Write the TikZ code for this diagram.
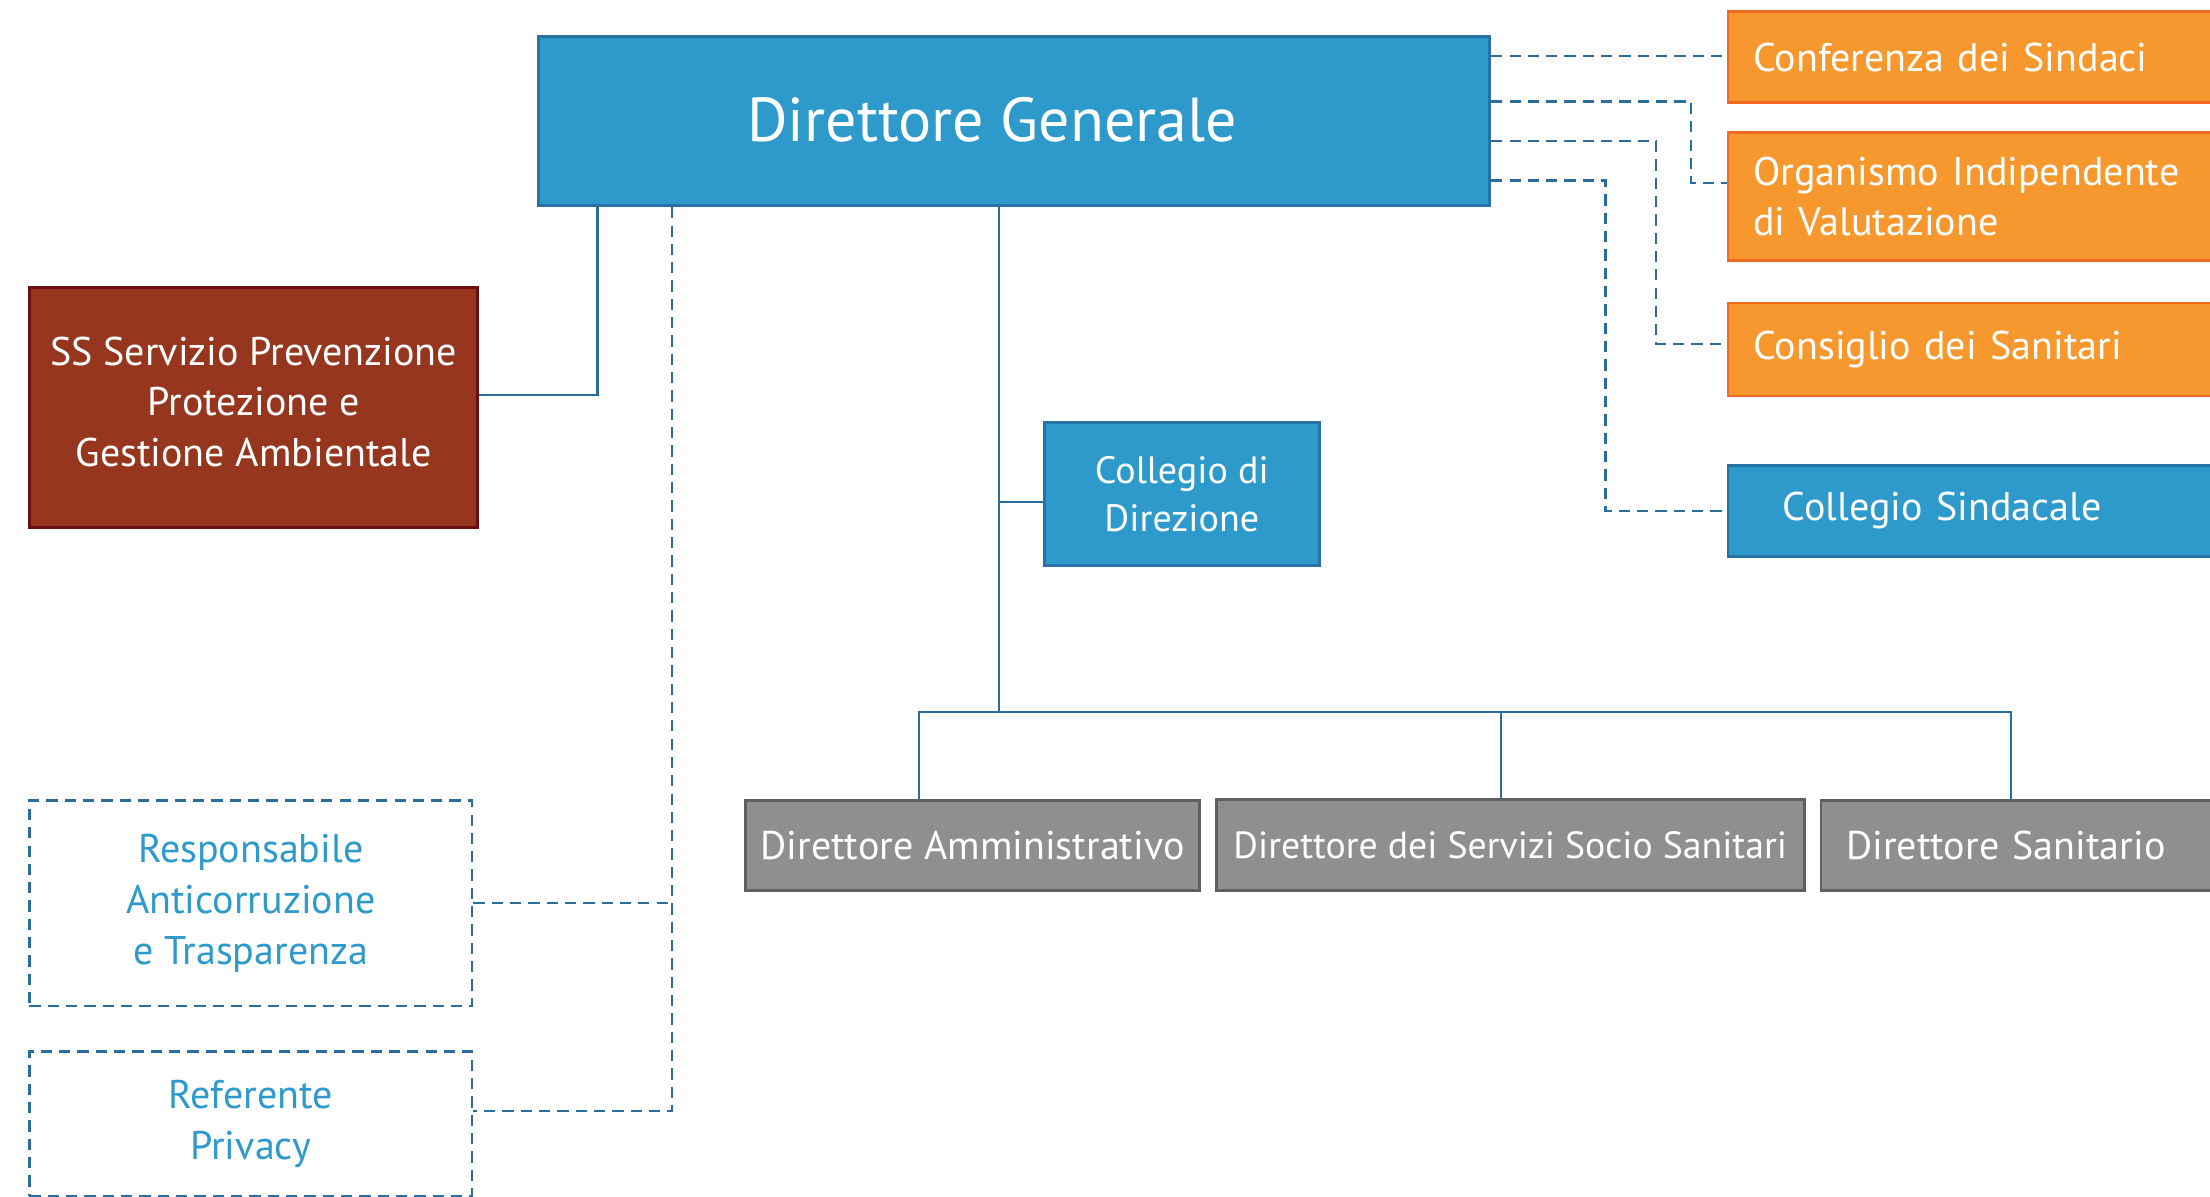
\documentclass[tikz,border=0pt]{standalone}
\usepackage{fontspec}
\setmainfont{PT Sans}
\definecolor{dgblue}{HTML}{2E9ACB}
\definecolor{dgborder}{HTML}{2872A5}
\definecolor{lnblue}{HTML}{2A6E9E}
\definecolor{orfill}{HTML}{F7982F}
\definecolor{orborder}{HTML}{F26A22}
\definecolor{brfill}{HTML}{96361E}
\definecolor{brborder}{HTML}{6A1010}
\definecolor{grfill}{HTML}{8E8F91}
\definecolor{grborder}{HTML}{5F6062}
\begin{document}
\begin{tikzpicture}[x=0.5pt,y=-0.5pt,
  box/.style={anchor=north west, line width=1pt, inner sep=0pt, text=white, align=center},
  bluebox/.style={box, fill=dgblue, draw=dgborder},
  orbox/.style={box, fill=orfill, draw=orborder},
  brbox/.style={box, fill=brfill, draw=brborder},
  grbox/.style={box, fill=grfill, draw=grborder},
  dashbox/.style={anchor=north west, line width=0.9pt, draw=lnblue, dash pattern=on 4pt off 2.5pt, inner sep=0pt, text=dgblue, align=center},
  ln/.style={draw=lnblue, line width=0.8pt},
  dln/.style={draw=lnblue, line width=0.8pt, dash pattern=on 4pt off 2.5pt},
  txt/.style={font=\fontsize{14.2}{18}\selectfont}
]
\useasboundingbox (0,0) rectangle (1568,849);
\fill[white] (0,0) rectangle (1568,849);

% Direttore Generale
\node[bluebox, minimum width=337.5pt, minimum height=60pt] (dg) at (381,25) {};
\node[text=white, font=\fontsize{22}{26}\selectfont, inner sep=0pt] (dgt) at (704,85) {Direttore Generale};

% SS
\node[brbox, minimum width=159pt, minimum height=85pt, txt, inner ysep=2pt, text depth=4pt] (ss) at (20,203)
  {SS Servizio Prevenzione\\Protezione e\\Gestione Ambientale};

% dashed left boxes
\node[dashbox, minimum width=157pt, minimum height=73pt, txt] (resp) at (20,567)
  {Responsabile\\Anticorruzione\\e Trasparenza};
\node[dashbox, minimum width=157pt, minimum height=51.5pt, txt] (ref) at (20,745)
  {Referente\\Privacy};

% Collegio di Direzione
\node[bluebox, minimum width=97.5pt, minimum height=50.5pt, font=\fontsize{13.5}{17}\selectfont] (cdd) at (740,299)
  {Collegio di\\Direzione};

% gray boxes
\node[grbox, minimum width=161pt, minimum height=32pt, txt] (da) at (528,567) {Direttore Amministrativo};
\node[grbox, minimum width=208.5pt, minimum height=32.5pt, font=\fontsize{13.4}{17}\selectfont] (dsss) at (862,566) {Direttore dei Servizi Socio Sanitari};
\node[grbox, minimum height=32pt, text width=136pt, inner xsep=9pt, align=left, txt] (ds) at (1291,567) {Direttore Sanitario};

% right boxes
\node[orbox, minimum height=32.5pt, text width=157pt, inner xsep=9pt, align=left, txt] (conf) at (1225,7) {Conferenza dei Sindaci};
\node[orbox, minimum height=45.5pt, text width=157pt, inner xsep=9pt, align=left, txt] (oiv) at (1225,93) {Organismo Indipendente\\di Valutazione};
\node[orbox, minimum height=33pt, text width=157pt, inner xsep=9pt, align=left, txt] (cons) at (1225,214) {Consiglio dei Sanitari};
\node[bluebox, minimum height=32.5pt, text width=136pt, inner xsep=19.5pt, align=left, txt] (cs) at (1225,329) {Collegio Sindacale};

% solid connectors
\coordinate (sv) at ([xshift=21.5pt]dg.south west);
\draw[ln] (sv) |- ([yshift=4.5pt]ss.east);
\coordinate (mv) at ([xshift=-5.25pt]dg.south);
\coordinate (bus) at ([yshift=-179pt]mv);
\draw[ln] (mv) -- (bus);
\coordinate (cddc) at ([yshift=-2.75pt]cdd.west);
\draw[ln] (cddc) -- (cddc -| mv);
\coordinate (dadrop) at ([xshift=-19pt]da.north);
\coordinate (dsssdrop) at ([xshift=-3.25pt]dsss.north);
\coordinate (dsdrop) at ([xshift=68pt]ds.north west);
\draw[ln] (dadrop) |- (bus) -| (dsdrop);
\draw[ln] (bus -| dsssdrop) -- (dsssdrop);

% dashed left connectors
\coordinate (dv) at ([xshift=48pt]dg.south west);
\coordinate (refc) at ([yshift=4.5pt]ref.east);
\draw[dln] (dv) |- (refc);
\draw[dln] (resp.east) -- (resp.east -| dv);

% dashed right connectors
\coordinate (a1) at ([yshift=-7.5pt]dg.north east);
\coordinate (a2) at ([yshift=-23.5pt]dg.north east);
\coordinate (a3) at ([yshift=-37.5pt]dg.north east);
\coordinate (a4) at ([yshift=-51.5pt]dg.north east);
\draw[dln] (a1) -- (a1 -| conf.west);
\coordinate (t2) at ([yshift=4.75pt]oiv.west);
\draw[dln] (a2) -| ([xshift=-12.5pt]t2) -- (t2);
\coordinate (t3) at ([yshift=2pt]cons.west);
\draw[dln] (a3) -| ([xshift=-25pt]t3) -- (t3);
\coordinate (t4) at (cs.west);
\draw[dln] (a4) -| ([xshift=-43pt]t4) -- (t4);
\end{tikzpicture}
\end{document}
